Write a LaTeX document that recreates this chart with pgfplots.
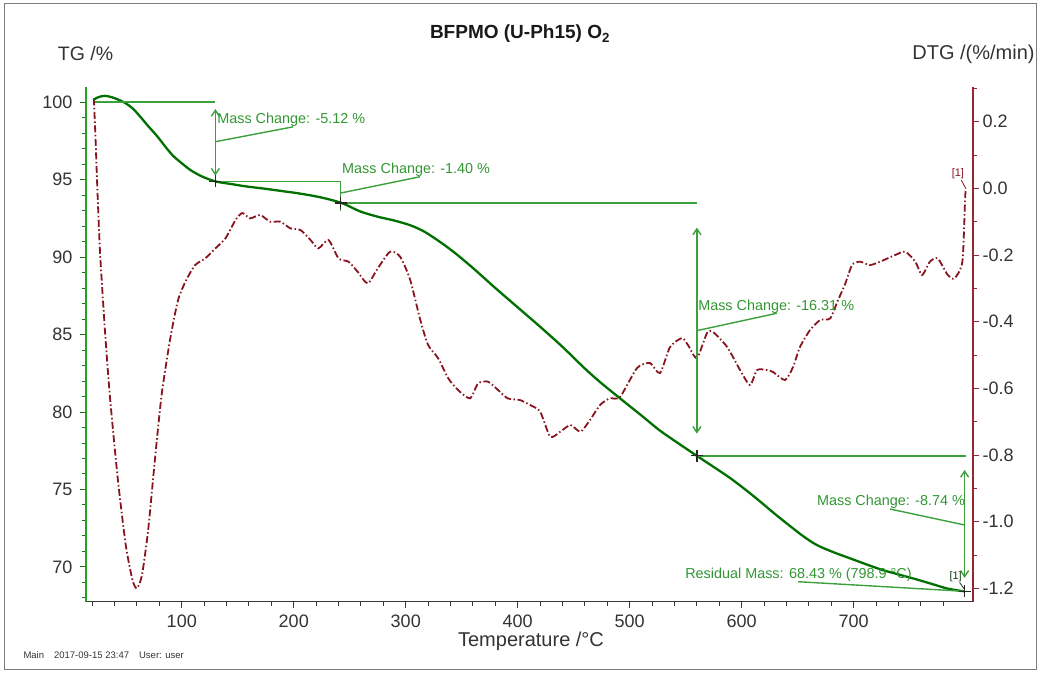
\documentclass[border=0pt]{standalone}
\usepackage{fontspec}
\setmainfont{Liberation Sans}
\usepackage{pgfplots}
\usepackage{pgfplotstable}
\pgfplotsset{compat=1.18}
\usetikzlibrary{arrows.meta}

\definecolor{tgcurve}{RGB}{0,112,0}
\definecolor{tgaxis}{RGB}{40,160,40}
\definecolor{annot}{RGB}{60,160,60}
\definecolor{annottext}{RGB}{50,150,50}
\definecolor{dtgcurve}{RGB}{135,20,30}
\definecolor{dtgaxis}{RGB}{150,40,50}
\definecolor{framegray}{RGB}{125,125,125}
\definecolor{xaxisgray}{RGB}{55,55,55}

% TG signal (mass, %)
\pgfplotstableread{
T TG
21.5 100.15
25 100.3
31 100.4
38 100.3
48 100.0
56 99.6
63 99.05
70 98.45
78 97.8
85 97.15
92 96.55
100 96.05
108 95.6
118 95.2
130 94.88
145 94.7
158 94.55
175 94.4
190 94.25
205 94.1
224 93.85
243 93.48
259 92.95
275 92.6
290 92.35
304 92.05
315 91.7
324 91.3
335 90.75
345 90.2
355 89.6
363 89.1
380 88.0
400 86.75
420 85.5
440 84.2
460 82.8
474 81.9
491 80.9
510 79.8
527 78.8
545 77.9
560 77.17
575 76.45
590 75.72
604 74.95
616 74.25
630 73.4
643 72.65
655 71.98
667 71.42
682 70.95
697 70.55
712 70.15
726 69.8
741 69.5
756 69.2
770 68.9
783 68.62
792 68.5
799 68.43
}\tgdata

% DTG signal (%/min)
\pgfplotstableread{
T D
21.5 0.27
23 0.15
24.4 0.02
27 -0.19
31.5 -0.43
36 -0.63
43 -0.875
50 -1.07
56 -1.175
60 -1.20
64.5 -1.16
70 -1.025
76 -0.815
82 -0.62
89.5 -0.455
96.7 -0.335
104 -0.275
112 -0.23
121 -0.21
130 -0.18
139 -0.15
148 -0.095
154 -0.074
161 -0.09
170 -0.08
179 -0.10
188 -0.10
197 -0.12
206 -0.125
215 -0.155
222 -0.18
231 -0.155
240 -0.21
249 -0.22
257 -0.25
266 -0.285
275 -0.24
286 -0.19
295 -0.205
304 -0.275
313 -0.395
320 -0.47
329 -0.51
338 -0.57
346.7 -0.605
357.4 -0.63
364.6 -0.585
373.5 -0.58
382.4 -0.605
391 -0.63
402 -0.635
411 -0.65
420 -0.67
429 -0.745
438 -0.73
447 -0.71
456 -0.73
464.5 -0.695
473.5 -0.65
482 -0.63
491.3 -0.626
506.5 -0.539
518 -0.524
527 -0.554
536 -0.476
546.7 -0.449
552 -0.47
560 -0.509
569 -0.434
574.4 -0.431
587 -0.476
598.5 -0.545
607.4 -0.59
613.7 -0.545
622.6 -0.545
628 -0.551
638.7 -0.575
645.8 -0.536
652 -0.476
661 -0.425
670 -0.395
679 -0.39
686 -0.335
692 -0.29
698.5 -0.23
705.6 -0.22
714.5 -0.23
723.5 -0.22
737 -0.20
746 -0.19
755 -0.22
761 -0.26
768 -0.22
775 -0.21
784 -0.26
790 -0.27
797 -0.22
799.4 -0.035
800 0.0
}\dtgdata

\pgfplotsset{
  thermo/.style={
    at={(86pt,71.3pt)}, anchor=south west,
    scale only axis, width=887pt, height=515pt,
    xmin=14.5, xmax=806.5,
    tick align=outside,
    major tick length=6pt, minor tick length=4pt,
    /pgf/number format/assume math mode=true,
    tick label style={font=\fontsize{18}{21}\selectfont, text=black!80},
    clip=false,
  },
}
\tikzset{
  ann/.style={annot, line width=1.4pt},
  anntext/.style={text=annottext, font=\fontsize{14.4}{17}\selectfont, inner sep=0pt},
  dblarrow/.style={ann, {Straight Barb[length=6pt,width=8pt]}-{Straight Barb[length=6pt,width=8pt]}},
}

\begin{document}
\begin{tikzpicture}[x=1pt,y=1pt]
\path[use as bounding box] (0,0) rectangle (1041,673);
\draw[framegray, line width=1.6pt] (4.5,3.5) rectangle (1036.5,669.5);

% DTG on the right-hand axis
\begin{axis}[thermo,
  ymin=-1.240, ymax=0.305,
  axis y line*=right, axis x line=none,
  y axis line style={draw=dtgaxis, line width=1.6pt, -},
  ytick={-1.2,-1.0,-0.8,-0.6,-0.4,-0.2,0,0.2},
  minor ytick={-1.1,-0.9,-0.7,-0.5,-0.3,-0.1,0.1,0.3},
  ytick style={draw=dtgaxis, line width=1pt},
  yticklabel style={/pgf/number format/.cd, fixed, fixed zerofill, precision=1},
]
\addplot[dtgcurve, line width=1.8pt, smooth, tension=0.4,
  dash pattern=on 7pt off 2.5pt on 1.5pt off 2.5pt] table[x=T, y=D] {\dtgdata};
\node[text=dtgcurve, font=\fontsize{11}{12}\selectfont, inner sep=0pt] at (793,0.045) {[1]};
\draw[dtgcurve, line width=0.8pt] (796,0.025) -- (800,0.0);
\end{axis}

% TG on the left-hand axis
\begin{axis}[thermo,
  ymin=67.76, ymax=100.99,
  axis y line*=left, axis x line*=bottom,
  x axis line style={draw=xaxisgray, line width=1.4pt, -},
  y axis line style={draw=tgaxis, line width=1.6pt, -},
  xtick={100,200,...,700},
  minor xtick={20,40,...,780},
  xtick style={draw=xaxisgray, line width=1pt},
  xticklabel style={yshift=-4pt},
  ytick={70,75,...,100},
  minor ytick={68,69,...,100},
  ytick style={draw=tgaxis!70!black, line width=1pt},
  yticklabel style={xshift=-4pt},
]
\addplot[tgcurve, line width=2.3pt, smooth, tension=0.5] table[x=T, y=TG] {\tgdata};

% step 1
\draw[ann] (22.6,100) -- (130,100);
\draw[dblarrow] (130,99.55) -- (130,95.25);
\draw[ann] (130,97.44) -- (199.4,98.4);
\node[anntext, anchor=west] at (131.6,98.84) {Mass Change: -5.12 \%};
% step 2
\draw[ann] (130,94.88) -- (242,94.88) -- (242,93.0);
\draw[ann] (242,94.13) -- (312.8,95.18);
\node[anntext, anchor=west] at (243.1,95.6) {Mass Change: -1.40 \%};
% step 3
\draw[ann] (242,93.48) -- (560,93.48);
\draw[dblarrow] (560,91.9) -- (560,78.6);
\draw[ann] (560,85.25) -- (631.3,86.37);
\node[anntext, anchor=west] at (561,86.77) {Mass Change: -16.31 \%};
% step 4
\draw[ann] (560,77.17) -- (800,77.17);
\draw[dblarrow] (799,76.26) -- (799,69.3);
\draw[ann] (799,72.71) -- (732.4,73.74);
\node[anntext, anchor=east] at (799.4,74.2) {Mass Change: -8.74 \%};
% residual
\draw[ann] (650.3,69.05) -- (799,68.43);
\node[anntext, anchor=west] at (549.4,69.5) {Residual Mass: 68.43 \% (798.9 °C)};
\node[text=black!60!annottext, font=\fontsize{11}{12}\selectfont, inner sep=0pt] at (791,69.4) {[1]};
\draw[black!60!annottext, line width=0.8pt] (794.5,69.0) -- (798.5,68.6);

\addplot[only marks, mark=+, mark size=6pt, black!85, line width=1.2pt]
  coordinates {(130,94.88) (242,93.48) (560,77.17) (799,68.43)};
\end{axis}

% titles and labels
\node[font=\bfseries\fontsize{19}{22}\selectfont, text=black!90] at (520,639) {BFPMO (U-Ph15) O\textsubscript{2}};
\node[font=\fontsize{19.5}{22}\selectfont, text=black!80] at (85.5,619.5) {TG /\%};
\node[font=\fontsize{20}{23}\selectfont, text=black!80] at (973.5,619) {DTG /(\%/min)};
\node[font=\fontsize{20}{23}\selectfont, text=black!80] at (531,32) {Temperature /°C};
\node[font=\fontsize{9.5}{11}\selectfont, text=black!80, anchor=west] at (20,18)
  {Main\hspace{10pt}2017-09-15 23:47\hspace{10pt}User: user};
\end{tikzpicture}
\end{document}
